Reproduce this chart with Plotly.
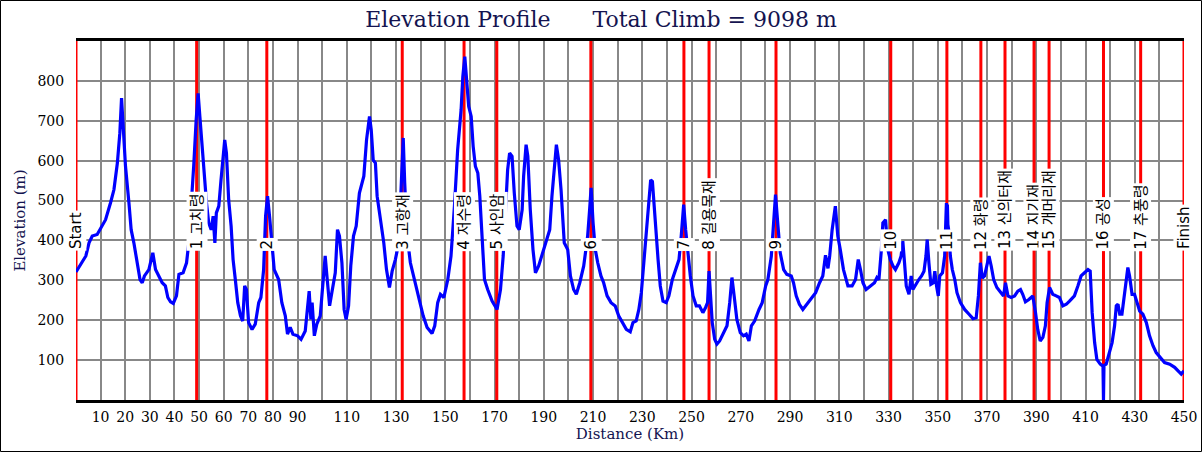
import plotly.graph_objects as go

# ---- data ----
dist_km = [0, 4, 5.3, 6.6, 8.6, 10.7, 12, 14, 15.4, 16.8, 17.8, 18.5, 19.2, 20.1, 21.5, 22.4, 23.5, 24.9, 26, 26.9,
           27.8, 29.6, 31.2, 32.3, 33.6, 35, 36.3, 37.3, 38.4, 39.5, 40.8, 41.8, 43.5, 44.9, 45.8, 46.8, 47.8, 48.8,
           49.6, 50.3, 51.2, 52.2, 53, 53.9, 54.9, 55.7, 56.4, 57, 58, 58.9, 59.7, 60.4, 61.1, 62, 63, 63.8, 64.7,
           65.7, 66.8, 67.7, 68.5, 69.2, 70.1, 71.5, 72.8, 74.2, 75.1, 76.2, 77, 77.8, 78.6, 79.6, 80.5, 82.3, 83.6,
           85, 85.9, 87, 88.1, 90, 91.4, 93.1, 94.1, 94.7, 95.4, 95.9, 96.8, 97.8, 99.2, 100.1, 101.2, 101.9, 103,
           103.9, 105.3, 106.2, 107, 108, 108.9, 109.7, 110.7, 111.6, 112.7, 113.8, 115.1, 116.9, 118, 119.2, 119.9,
           120.7, 121.6, 122.3, 123.7, 125, 126.1, 127.3, 128.4, 129.7, 131.1, 132, 132.9, 133.5, 134.5, 135.8,
           137.5, 139.2, 141, 142.6, 144.6, 145.7, 146.9, 148, 149.4, 151, 152.3, 153.7, 155, 156.4, 157.1, 157.9,
           158.6, 159.5, 160.5, 161.3, 162.2, 163.2, 164, 165, 165.9, 167.2, 169, 171, 172.4, 173.5, 174.4, 175.3,
           176.1, 177.1, 178, 179.1, 180, 181.2, 181.8, 182.8, 183.5, 184.5, 185.6, 186.6, 187.9, 189.3, 190.6,
           192.4, 193.3, 194.3, 195.1, 196, 197, 198.3, 199.7, 200.8, 202.1, 203.2, 204.6, 206.2, 207.8, 208.6,
           209.2, 210, 210.9, 211.9, 213.2, 214.3, 215.7, 217.3, 219, 220.4, 221.8, 223.5, 225.1, 226.2, 227.5,
           228.6, 229.6, 230.5, 231.6, 232.6, 233.4, 234.1, 234.7, 235.4, 236.4, 237.3, 238.4, 239.7, 240.8, 242.2,
           243.5, 244.9, 245.8, 246.8, 247.6, 248.5, 249.5, 250.6, 251.9, 253.2, 254.6, 255.7, 256.5, 257.1, 257.7,
           258.4, 259.4, 260.3, 261.4, 262.7, 264.4, 265.5, 266.4, 267.3, 268.4, 269.8, 271.1, 272.2, 273.3, 274.3,
           275.6, 277.4, 278.7, 280.1, 281, 282.4, 283.3, 284.1, 285.1, 286, 287.4, 288.7, 290.5, 291.4, 292.5,
           293.8, 295.2, 296.8, 298.6, 300.4, 302, 303.3, 304.4, 305.4, 306.1, 307.1, 308.4, 309.4, 310.4, 311.7,
           313.5, 315.2, 316.6, 317.7, 318.6, 319.6, 320.9, 322.6, 324.3, 325.3, 326.1, 327.1, 327.7, 328.8, 329.7,
           330.7, 331.8, 332.8, 334.2, 335.1, 335.8, 336.5, 337.2, 338.3, 339.2, 339.9, 341.3, 342.3, 343.4, 344.4,
           345.2, 345.7, 346.4, 347.2, 348.2, 348.8, 349.5, 350.2, 350.8, 351.9, 352.8, 353.3, 353.5, 353.7, 353.9,
           354.1, 354.5, 355.1, 355.9, 356.9, 357.8, 359.2, 360.9, 362.7, 364.3, 365.6, 366.5, 367.3, 368.1, 369,
           370, 370.8, 371.7, 372.7, 374, 375.8, 376.7, 377.5, 378.5, 379.8, 381.2, 382.5, 383.6, 384.5, 385.6, 387,
           388.6, 389.7, 390.6, 391.6, 392.7, 393.7, 394.4, 395.4, 396.7, 398.1, 399.4, 400.8, 402.2, 403.5, 405.5,
           406.9, 408.2, 409.6, 411, 411.9, 412.7, 413.7, 414.6, 416, 417.1, 417.3, 417.5, 418.4, 419.8, 420.8,
           421.8, 422.5, 423.2, 423.9, 424.8, 425.9, 426.6, 427.2, 427.9, 428.9, 429.9, 431, 432, 433.3, 434.7, 436,
           437.4, 438.7, 440.4, 442.1, 444.2, 446.2, 447.6, 448.9, 450]
elev_m = [321, 361, 394, 411, 415, 436, 452, 494, 527, 594, 669, 757, 686, 586, 494, 427, 394, 336, 302, 294,
          311, 327, 369, 327, 311, 294, 286, 257, 246, 242, 261, 315, 319, 344, 394, 486, 586, 702,
          769, 711, 636, 536, 494, 444, 427, 461, 394, 469, 486, 552, 619, 652, 619, 502, 436, 352, 302,
          244, 211, 198, 286, 277, 194, 177, 190, 244, 257, 327, 461, 511, 461, 386, 327, 302, 244,
          211, 165, 182, 165, 161, 152, 173, 227, 273, 202, 244, 161, 190, 211, 277, 361, 311, 236,
          269, 319, 427, 411, 344, 227, 202, 236, 336, 411, 436, 519, 561, 652, 711, 678,
          602, 594, 511, 452, 394, 327, 282, 323, 352, 394, 527, 657, 544, 411, 344,
          302, 252, 211, 182, 167, 186, 244, 265, 257, 302, 361, 486, 627, 727, 811, 861,
          811, 736, 711, 636, 586, 569, 511, 402, 302, 277, 248, 227, 277, 361, 477, 577,
          619, 611, 519, 436, 427, 477, 561, 640, 611, 477, 377, 319, 336, 365, 394,
          427, 511, 577, 640, 602, 527, 394, 377, 311, 277, 265, 294, 336, 411, 477,
          532, 444, 377, 344, 311, 294, 261, 244, 236, 211, 194, 177, 171, 194, 198,
          227, 269, 336, 411, 486, 552, 548, 494, 419, 352, 286, 248, 244, 261, 302,
          327, 352, 411, 490, 427, 361, 311, 261, 236, 236, 219, 232, 244, 323, 244,
          194, 152, 140, 148, 165, 186, 244, 307, 261, 202, 169, 161, 165, 148, 186,
          198, 227, 244, 286, 302, 361, 444, 515, 436, 369, 327, 315, 311, 294, 261,
          240, 227, 240, 252, 269, 294, 311, 363, 330, 361, 427, 486, 411, 377, 327,
          286, 286, 302, 352, 327, 294, 277, 286, 294, 307, 302, 377, 444, 452, 377,
          352, 336, 327, 344, 361, 398, 344, 286, 265, 311, 277, 294, 302, 311, 323,
          361, 402, 344, 290, 294, 323, 286, 261, 311, 319, 361, 436, 494, 430, 490,
          440, 423, 361, 327, 302, 269, 244, 227, 215, 204, 206, 261, 344, 306, 311,
          336, 361, 336, 302, 282, 269, 261, 294, 261, 257, 261, 273, 277, 265, 246, 252,
          261, 219, 177, 148, 157, 186, 244, 282, 265, 261, 257, 236, 240, 248, 261,
          286, 311, 319, 327, 323, 219, 144, 102, 90, 85, 0, 86, 90, 119, 144,
          186, 236, 240, 215, 215, 269, 311, 332, 311, 265, 265, 240, 223, 215, 194, 161,
          136, 119, 106, 94, 90, 82, 73, 65, 73]

checkpoint_km = [0, 49.0, 77.5, 132.5, 157.6, 170.9, 209.1, 246.9, 257.1, 284.3, 330.9, 353.7, 367.5, 377.3,
                 389.1, 395.2, 417.3, 432.4, 450]
checkpoint_names = ["Start", "1 고치령", "2", "3 고항재", "4 저수령", "5 사인암", "6", "7", "8 길용목재", "9", "10",
                    "11", "12 화령", "13 신의터재", "14 지기재", "15 개머리재", "16 공성", "17 추풍령", "Finish"]

x_tick_vals = [10, 20, 30, 40, 50, 60, 70, 80, 90] + list(range(110, 451, 20))
y_tick_vals = [100, 200, 300, 400, 500, 600, 700, 800]
total_climb = 9098

W, H = 1202, 452
ML, MR, MT, MB = 76, 18, 41, 52
PW, PH = W - ML - MR, H - MT - MB

fig = go.Figure()

# red checkpoint lines
rx, ry = [], []
for k in checkpoint_km:
    rx += [k, k, None]
    ry += [0, 900, None]
fig.add_trace(go.Scatter(x=rx, y=ry, mode="lines", line=dict(color="#ff0000", width=3),
                         hoverinfo="skip", showlegend=False, cliponaxis=False))

fig.add_trace(go.Scatter(x=dist_km, y=elev_m, mode="lines", line=dict(color="#0000ff", width=3.2),
                         showlegend=False))

for k, name in zip(checkpoint_km, checkpoint_names):
    fig.add_annotation(x=k, y=372, xref="x", yref="y", text=name, textangle=-90, showarrow=False,
                       xanchor="center", yanchor="bottom", bgcolor="white", borderpad=1,
                       font=dict(family="DejaVu Sans, Noto Sans CJK KR", size=15, color="black"))

# outer frame
fig.add_shape(type="rect", xref="paper", yref="paper",
              x0=(0.5 - ML) / PW, x1=(W - 0.5 - ML) / PW,
              y0=-(MB - 0.5) / PH, y1=1 + (MT - 0.5) / PH,
              line=dict(color="black", width=1), layer="above")

navy = "#141450"
fig.update_layout(
    width=W, height=H,
    margin=dict(l=ML, r=MR, t=MT, b=MB, autoexpand=False),
    paper_bgcolor="white", plot_bgcolor="white",
    title=dict(text="Elevation Profile" + "\u00a0" * 6 + f"Total Climb = {total_climb} m",
               x=0.5, xref="container", xanchor="center", y=1 - 19 / H, yanchor="middle",
               font=dict(family="DejaVu Serif", size=22, color=navy), automargin=False),
    hovermode=False,
    xaxis=dict(range=[0, 450], tickvals=x_tick_vals, ticktext=[str(v) for v in x_tick_vals],
               automargin=False,
               showgrid=True, gridcolor="#888888", gridwidth=2,
               minor=dict(dtick=10, tick0=0, showgrid=True, gridcolor="#888888", gridwidth=2),
               showline=True, linecolor="black", linewidth=3, mirror=True,
               ticks="outside", ticklen=2, tickcolor="rgba(0,0,0,0)",
               zeroline=False,
               tickfont=dict(family="DejaVu Serif", size=14, color="black"),
               title=dict(text="Distance (Km)", standoff=3,
                          font=dict(family="DejaVu Serif", size=15, color=navy))),
    yaxis=dict(range=[0, 900], tickvals=y_tick_vals, showgrid=True, gridcolor="#888888", gridwidth=2,
               automargin=False,
               showline=False, zeroline=False,
               ticks="outside", ticklen=8, tickcolor="rgba(0,0,0,0)",
               tickfont=dict(family="DejaVu Serif", size=14, color="black"),
               title=dict(text="Elevation (m)", standoff=8,
                          font=dict(family="DejaVu Serif", size=15, color=navy))),
)

fig.write_html("out.html", config={"displayModeBar": False, "staticPlot": True},
               post_script="document.body.style.margin='0';document.body.style.overflow='hidden';")
